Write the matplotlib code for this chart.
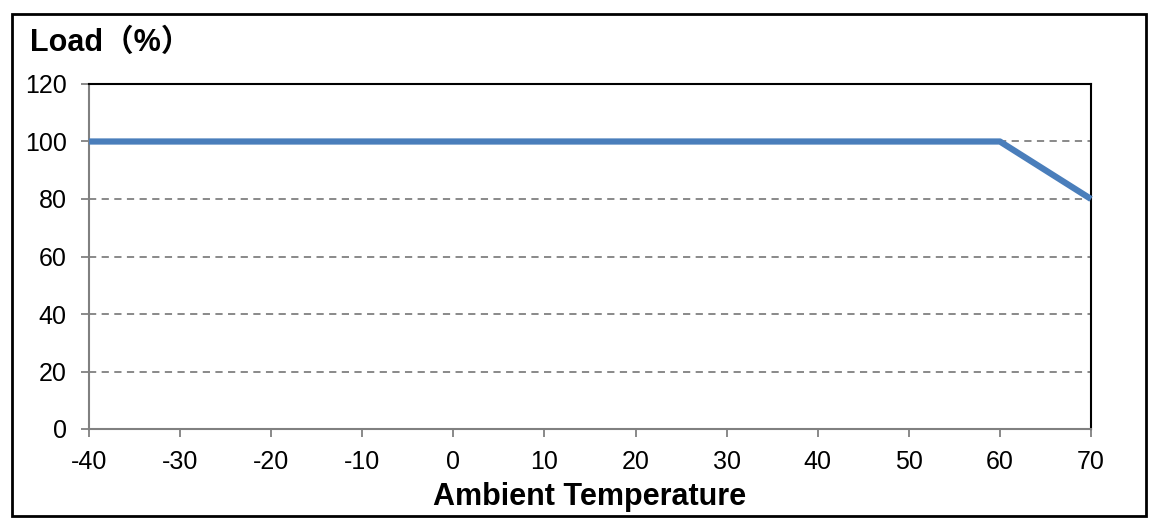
import matplotlib.pyplot as plt
from matplotlib.patches import Rectangle

# derating curve
temps = [-40, 60, 70]
loads = [100, 100, 80]
xticks = [-40, -30, -20, -10, 0, 10, 20, 30, 40, 50, 60, 70]
yticks = [0, 20, 40, 60, 80, 100, 120]

plt.rcParams['font.family'] = ['Liberation Sans', 'Noto Sans CJK SC', 'DejaVu Sans']
plt.rcParams['axes.unicode_minus'] = False

fig = plt.figure(figsize=(11.57, 5.32), dpi=100)
ax = fig.add_axes([89/1157, 1-429/532, (1091-89)/1157, (429-84)/532])

# outer frame round the whole chart
fig.patches.append(Rectangle((12/1157, 1-516/532), (1146-12)/1157, (516-14)/532,
                             transform=fig.transFigure, fill=False,
                             edgecolor='black', lw=2))

for y in yticks[1:-1]:
    ax.axhline(y, color='#808080', lw=1.3, ls=(0, (4, 3)), zorder=1)

ax.plot(temps, loads, color='#4a7ebb', lw=4.5, clip_on=False, zorder=3,
        solid_capstyle='butt')

ax.set_xlim(-40, 70)
ax.set_ylim(0, 120)
ax.set_xticks(xticks)
ax.set_yticks(yticks)
ax.tick_params(axis='both', direction='out', length=6, width=1.3,
               color='#808080', labelsize=18)
ax.tick_params(axis='x', pad=9)
ax.tick_params(axis='y', pad=10)

ax.spines['left'].set_color('#808080')
ax.spines['bottom'].set_color('#808080')
ax.spines['left'].set_linewidth(1.5)
ax.spines['bottom'].set_linewidth(1.5)
ax.spines['top'].set_color('black')
ax.spines['right'].set_color('black')
ax.spines['top'].set_linewidth(1.5)
ax.spines['right'].set_linewidth(1.5)

ax.set_xlabel('Ambient Temperature', fontsize=22, fontweight='bold', labelpad=6)
fig.text(30/1157, 1-43/532, 'Load（%）', fontsize=22, fontweight='bold',
         ha='left', va='center')

fig.savefig('out.png', dpi=100)
